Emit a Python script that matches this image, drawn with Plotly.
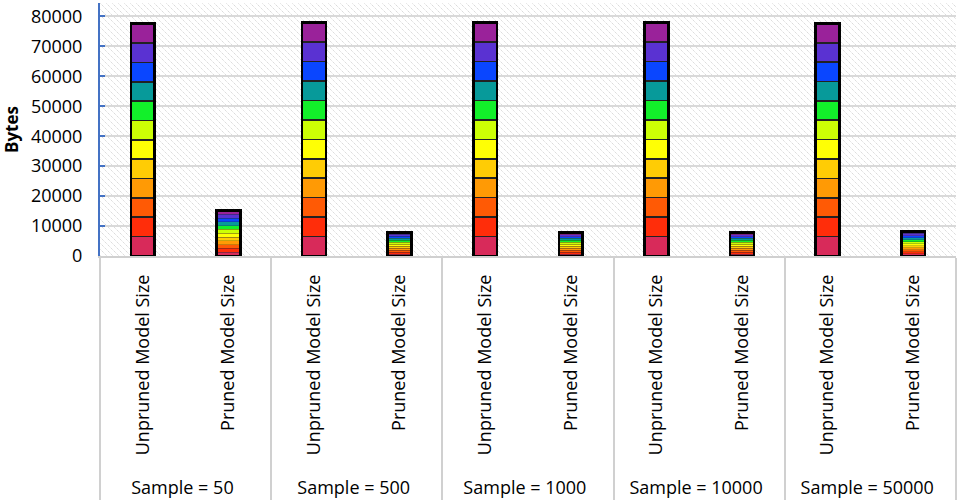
import base64
import plotly.graph_objects as go

# ---- data ----
groups = ["Sample = 50", "Sample = 500", "Sample = 1000", "Sample = 10000", "Sample = 50000"]
models = ["Unpruned Model Size", "Pruned Model Size"]
unpruned_bytes = [77600, 77900, 77900, 77900, 77700]
pruned_bytes = [15200, 7900, 7800, 7800, 8200]
block_colors = ["#D82A5A", "#FF2D0A", "#FF5A05", "#FF9A05", "#FFCC05", "#FFFF05",
                "#CCFF05", "#12F02A", "#079A9A", "#0A46FF", "#5A32D2", "#9A229A"]
y_ticks = [0, 10000, 20000, 30000, 40000, 50000, 60000, 70000, 80000]

NB = "\u00a0"
xg, xm, totals, lw = [], [], [], []
for g, u, p in zip(groups, unpruned_bytes, pruned_bytes):
    xg += [g, g]
    xm += [NB + m + NB * 2 for m in models]
    totals += [u, p]
    lw += [1.6, 0.25]

n = len(block_colors)
fig = go.Figure()
for c in block_colors:
    fig.add_trace(go.Bar(
        x=[xg, xm], y=[t / n for t in totals],
        marker=dict(color=c, line=dict(color="#222222", width=lw)),
        showlegend=False, hoverinfo="skip"))

# outer outline of each bar
fig.add_trace(go.Bar(
    x=[xg, xm], y=totals, xaxis="x2",
    marker=dict(color="rgba(0,0,0,0)", line=dict(color="#000000", width=2.6)),
    showlegend=False, hoverinfo="skip"))

# hatched background as svg image
W, H = 856, 253
svg = (f'<svg xmlns="http://www.w3.org/2000/svg" width="{W}" height="{H}" viewBox="0 0 {W} {H}" preserveAspectRatio="none">'
       '<defs><pattern id="p" width="6" height="6" patternUnits="userSpaceOnUse">'
       '<path d="M-1,-1 L7,7 M-1,5 L1,7 M5,-1 L7,1" stroke="#d3d3d3" stroke-width="1" stroke-dasharray="1.2,0.9"/></pattern></defs>'
       f'<rect width="{W}" height="{H}" fill="white"/><rect width="{W}" height="{H}" fill="url(#p)"/></svg>')
uri = "data:image/svg+xml;base64," + base64.b64encode(svg.encode()).decode()

font = "Open Sans"
fig.update_layout(
    width=957, height=500,
    margin=dict(l=100, r=1, t=3, b=244),
    barmode="stack", bargap=0.72,
    paper_bgcolor="white", plot_bgcolor="rgba(0,0,0,0)",
    font=dict(family=font, color="#000000", size=18),
    images=[dict(source=uri, xref="paper", yref="paper", x=0, y=1, sizex=1, sizey=1,
                 xanchor="left", yanchor="top", sizing="stretch", layer="below")],
    xaxis=dict(type="multicategory", tickangle=-90, showline=True, linecolor="#d0d0d0", linewidth=2,
               showdividers=True, dividercolor="#d0d0d0", dividerwidth=2,
               tickfont=dict(family=font, size=18), showgrid=False, automargin=False),
    xaxis2=dict(type="multicategory", overlaying="x", anchor="y", visible=False,
                showdividers=False, automargin=False),
    yaxis=dict(range=[0, 84500], tickvals=y_ticks, tickformat="d", showgrid=True,
               gridcolor="#d9d9d9", gridwidth=2,
               showline=True, linecolor="#4472C4", linewidth=2, ticks="inside", tickcolor="#4472C4",
               ticklen=5, tickwidth=2, ticklabelstandoff=12, zeroline=False,
               tickfont=dict(family=font, size=18), automargin=False,
               title=dict(text="<b>Bytes</b>", font=dict(family=font, size=17), standoff=10)),
)
fig.write_html("out.html", config={"displayModeBar": False},
               post_script="document.body.style.margin='0';document.body.style.padding='0';")
